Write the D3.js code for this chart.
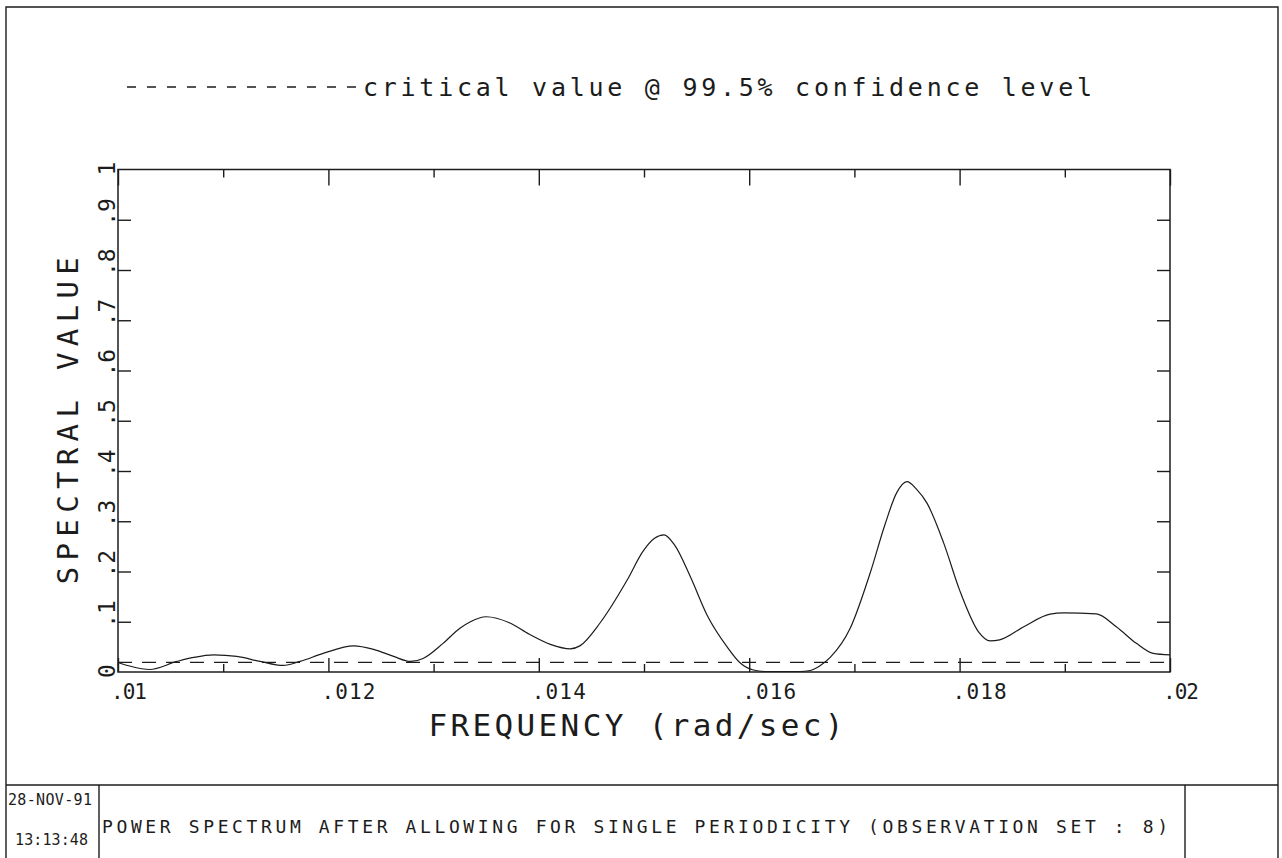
<!DOCTYPE html>
<html><head><meta charset="utf-8">
<script src="https://cdn.jsdelivr.net/npm/d3@7"></script>
<style>
body{margin:0;background:#fff}
svg{display:block}
text{font-family:"DejaVu Sans Mono","Liberation Mono",monospace;fill:#1c1c1c}
</style>
</head><body>
<svg id="c" width="1282" height="858"></svg>
<script>
// ---- data ----
const frequency = [0.01000,0.01011,0.01030,0.01056,0.01072,0.01091,0.01113,0.01135,0.01157,0.01173,0.01195,0.01224,0.01243,0.01262,0.01278,0.01290,0.01309,0.01325,0.01335,0.01350,0.01372,0.01391,0.01411,0.01430,0.01439,0.01458,0.01484,0.01499,0.01510,0.01519,0.01529,0.01544,0.01560,0.01579,0.01591,0.01604,0.01615,0.01648,0.01658,0.01667,0.01677,0.01696,0.01715,0.01729,0.01740,0.01750,0.01759,0.01769,0.01785,0.01800,0.01818,0.01829,0.01838,0.01861,0.01886,0.01899,0.01930,0.01949,0.01968,0.01984,0.02000];
const spectralValue = [0.019,0.012,0.005,0.021,0.029,0.034,0.031,0.021,0.013,0.021,0.037,0.052,0.045,0.031,0.021,0.027,0.057,0.087,0.100,0.110,0.098,0.075,0.055,0.046,0.052,0.097,0.183,0.240,0.266,0.273,0.253,0.190,0.113,0.050,0.019,0.004,0.001,0.001,0.003,0.012,0.029,0.087,0.197,0.293,0.356,0.379,0.364,0.336,0.256,0.163,0.080,0.062,0.064,0.090,0.115,0.1175,0.1155,0.090,0.057,0.037,0.034];
const criticalFrequency = [0.010, 0.020];
const criticalValue = [0.019, 0.019];
const xMajorTicks = [0.010,0.012,0.014,0.016,0.018,0.020];
const xMinorTicks = [0.011,0.013,0.015,0.017,0.019];
const xTickLabels = [".01",".012",".014",".016",".018",".02"];
const yTicks = [0,0.1,0.2,0.3,0.4,0.5,0.6,0.7,0.8,0.9,1];
const yTickLabels = ["0",".1",".2",".3",".4",".5",".6",".7",".8",".9","1"];
const legendLabel = "critical value @ 99.5% confidence level";
const xTitle = "FREQUENCY  (rad/sec)";
const yTitle = "SPECTRAL  VALUE";
const footerDate = "28-NOV-91";
const footerTime = "13:13:48";
const footerTitle = "POWER SPECTRUM AFTER ALLOWING FOR SINGLE PERIODICITY  (OBSERVATION SET  :  8)";

// ---- layout ----
const svg = d3.select("#c");
const L = 118, R = 1170, T = 169.5, B = 672;
const x = d3.scaleLinear().domain([0.01, 0.02]).range([L, R]);
const y = d3.scaleLinear().domain([0, 1]).range([B, T]);
const ink = "#1c1c1c";

// outer page border and footer box
const border = svg.append("g").attr("stroke", ink).attr("stroke-width", 1.4).attr("fill", "none");
border.append("path").attr("d", "M6,858 V7 H1278 V858");
border.append("line").attr("x1", 6).attr("x2", 1278).attr("y1", 785).attr("y2", 785);
border.append("line").attr("x1", 99).attr("x2", 99).attr("y1", 785).attr("y2", 858);
border.append("line").attr("x1", 1185).attr("x2", 1185).attr("y1", 785).attr("y2", 858);

// plot frame
svg.append("rect").attr("x", L).attr("y", T).attr("width", R - L).attr("height", B - T)
  .attr("fill", "none").attr("stroke", ink).attr("stroke-width", 1.5);

function styleAxis(g) {
  g.select(".domain").remove();
  g.selectAll(".tick line").attr("stroke", ink).attr("stroke-width", 1.4);
  g.selectAll(".tick text").remove();
}
// bottom ticks pointing up
svg.append("g").attr("transform", `translate(0,${B})`)
  .call(d3.axisTop(x).tickValues(xMajorTicks).tickSize(14).tickFormat("")).call(styleAxis);
svg.append("g").attr("transform", `translate(0,${B})`)
  .call(d3.axisTop(x).tickValues(xMinorTicks).tickSize(8).tickFormat("")).call(styleAxis);
// top ticks pointing down
svg.append("g").attr("transform", `translate(0,${T})`)
  .call(d3.axisBottom(x).tickValues(xMajorTicks).tickSize(16).tickFormat("")).call(styleAxis);
svg.append("g").attr("transform", `translate(0,${T})`)
  .call(d3.axisBottom(x).tickValues(xMinorTicks).tickSize(8).tickFormat("")).call(styleAxis);
// left / right ticks pointing inward
const innerY = yTicks.slice(1, -1);
svg.append("g").attr("transform", `translate(${L},0)`)
  .call(d3.axisRight(y).tickValues(innerY).tickSize(13).tickFormat("")).call(styleAxis);
svg.append("g").attr("transform", `translate(${R},0)`)
  .call(d3.axisLeft(y).tickValues(innerY).tickSize(13).tickFormat("")).call(styleAxis);

// x tick labels
svg.append("g").selectAll("text").data(xMajorTicks).join("text")
  .attr("x", d => x(d) - 7).attr("y", 699)
  .attr("font-size", 21).attr("text-anchor", "start")
  .attr("textLength", (d, i) => xTickLabels[i].length === 3 ? 36 : 54)
  .attr("lengthAdjust", "spacing")
  .text((d, i) => xTickLabels[i]);

// y tick labels (rotated)
svg.append("g").selectAll("text").data(yTicks).join("text")
  .attr("transform", d => `translate(115,${y(d) + 6}) rotate(-90)`)
  .attr("font-size", 23).attr("text-anchor", "start")
  .text((d, i) => yTickLabels[i]);

// axis titles
svg.append("text").attr("x", 636).attr("y", 736).attr("text-anchor", "middle")
  .attr("font-size", 31).attr("textLength", 415).attr("lengthAdjust", "spacing")
  .text(xTitle);
svg.append("text").attr("transform", `translate(78,${(T + B) / 2}) rotate(-90)`)
  .attr("text-anchor", "middle").attr("font-size", 29)
  .attr("textLength", 327).attr("lengthAdjust", "spacing")
  .text(yTitle);

// critical value dashed line
const line = d3.line().x(d => x(d[0])).y(d => y(d[1]));
svg.append("path").datum(criticalFrequency.map((f, i) => [f, criticalValue[i]]))
  .attr("d", line).attr("fill", "none").attr("stroke", ink)
  .attr("stroke-width", 1.3).attr("stroke-dasharray", "14,10");

// spectrum curve
const curve = d3.line().x(d => x(d[0])).y(d => y(d[1])).curve(d3.curveMonotoneX);
svg.append("path").datum(frequency.map((f, i) => [f, spectralValue[i]]))
  .attr("d", curve).attr("fill", "none").attr("stroke", ink).attr("stroke-width", 1.2);

// legend
svg.append("line").attr("x1", 127).attr("x2", 356).attr("y1", 87).attr("y2", 87)
  .attr("stroke", ink).attr("stroke-width", 1.3).attr("stroke-dasharray", "9,11");
svg.append("text").attr("x", 363).attr("y", 96).attr("font-size", 25)
  .attr("textLength", 729).attr("lengthAdjust", "spacing")
  .text(legendLabel);

// footer
svg.append("text").attr("x", 8).attr("y", 805).attr("font-size", 15)
  .attr("textLength", 84).attr("lengthAdjust", "spacing").text(footerDate);
svg.append("text").attr("x", 15).attr("y", 845).attr("font-size", 15)
  .attr("textLength", 73).attr("lengthAdjust", "spacing").text(footerTime);
svg.append("text").attr("x", 102).attr("y", 833).attr("font-size", 18)
  .attr("textLength", 1066).attr("lengthAdjust", "spacing").text(footerTitle);
</script>
</body></html>
